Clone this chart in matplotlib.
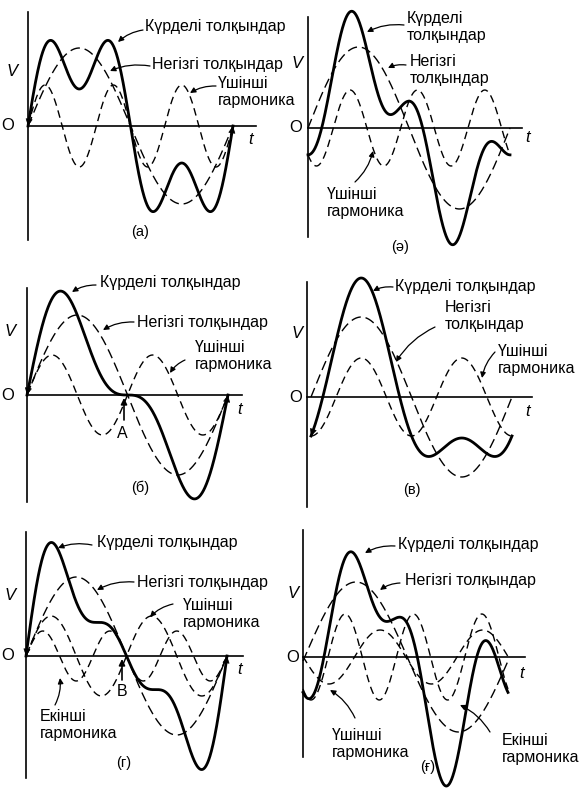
import numpy as np
import matplotlib.pyplot as plt

plt.rcParams['font.family'] = ['Liberation Sans', 'DejaVu Sans']

W, H = 580, 792

panel_tags = ['(a)', '(ә)', '(б)', '(в)', '(г)', '(ғ)']

# гармоники: амплитуда (px оригинала) и фаза (градусы)
fund_amp = [78, 81, 80, 80, 79, 75]
fund_phase = [0, 0, 0, 0, 0, -3]
h2_amp = [0, 0, 40, 39, 40, 27]
h2_phase = [0, 0, 0, -90, 0, 179]
h3_amp = [41, 38, 0, 0, 25, 43]
h3_phase = [0, 225, 0, 0, 0, 228]

# расположение панелей (px)
origin_x = [28, 308, 27, 311, 26, 303]
origin_y = [126, 128, 395, 397, 656, 657]
period = [205, 202, 201, 201, 201, 205]
vaxis_x = [28, 308, 27, 307, 26, 303]
vaxis_top = [12, 17, 288, 282, 532, 530]
vaxis_bot = [240, 237, 502, 507, 778, 757]
haxis_end = [256, 522, 242, 532, 243, 525]

v_pos = [(12, 72), (297, 63), (10, 331), (297, 333), (10, 595), (293, 593)]
o_pos = [(8, 126), (296, 128), (8, 395), (296, 397), (8, 656), (293, 657)]
t_pos = [(251, 140), (528, 137), (240, 409), (528, 412), (240, 670), (522, 673)]
tag_pos = [(140, 232), (400, 247), (140, 488), (412, 490), (124, 763), (428, 767)]

# стрелки-наконечники на сложной волне: (угол острия, угол хвоста)
curve_heads = {0: [(360, 350), (0, 10)], 2: [(360, 352), (0, 8)],
               3: [(0, 8)], 4: [(0, 8), (360, 352)]}

# подписи: текст, x левого края, y центра, начало стрелки, конец стрелки
labels = [
    ('Күрделі толқындар', 145, 27, (143, 30), (118, 42)),
    ('Негізгі толқындар', 152, 65, (150, 66), (110, 71)),
    ('Үшінші\nгармоника', 218, 92, (216, 86), (190, 93)),
    ('Күрделі\nтолқындар', 407, 27, (404, 25), (367, 32)),
    ('Негізгі\nтолқындар', 410, 70, (406, 65), (388, 68)),
    ('Үшінші\nгармоника', 327, 203, (355, 182), (373, 151)),
    ('Күрделі толқындар', 100, 283, (96, 285), (72, 292)),
    ('Негізгі толқындар', 137, 322, (134, 322), (103, 330)),
    ('Үшінші\nгармоника', 195, 356, (185, 360), (170, 373)),
    ('Күрделі толқындар', 395, 287, (393, 287), (373, 291)),
    ('Негізгі\nтолқындар', 445, 316, (435, 327), (396, 362)),
    ('Үшінші\nгармоника', 498, 360, (495, 352), (482, 378)),
    ('Күрделі толқындар', 97, 542, (92, 545), (58, 548)),
    ('Негізгі толқындар', 137, 582, (134, 582), (97, 590)),
    ('Үшінші\nгармоника', 183, 614, (173, 604), (150, 617)),
    ('Екінші\nгармоника', 40, 725, (55, 705), (60, 678)),
    ('Күрделі толқындар', 398, 545, (395, 546), (365, 553)),
    ('Негізгі толқындар', 405, 580, (400, 583), (380, 590)),
    ('Үшінші\nгармоника', 332, 744, (355, 718), (330, 690)),
    ('Екінші\nгармоника', 502, 749, (490, 732), (460, 705)),
]
points = [('A', 122, 433, (124, 420), (124, 398)),
          ('B', 122, 692, (122, 680), (122, 659))]

fig = plt.figure(figsize=(5.8, 7.92), dpi=100)
ax = fig.add_axes([0, 0, 1, 1])
ax.set_xlim(0, W)
ax.set_ylim(H, 0)
ax.axis('off')

theta = np.linspace(0, 360, 721)
th = np.radians(theta)
for i in range(6):
    x = origin_x[i] + theta / 360 * period[i]
    y0 = origin_y[i]
    f = fund_amp[i] * np.sin(th + np.radians(fund_phase[i]))
    s = h2_amp[i] * np.sin(2 * th + np.radians(h2_phase[i]))
    r = h3_amp[i] * np.sin(3 * th + np.radians(h3_phase[i]))
    c = y0 - (f + s + r)
    ax.plot(x, y0 - f, color='k', lw=1.0, dashes=(7, 3.5))
    if h2_amp[i]:
        ax.plot(x, y0 - s, color='k', lw=1.0, dashes=(5.5, 3.5))
    if h3_amp[i]:
        ax.plot(x, y0 - r, color='k', lw=1.0, dashes=(5.5, 3.5))
    ax.plot(x, c, color='k', lw=2.0)

    for tip, tail in curve_heads.get(i, []):
        a, b = tip * 2, tail * 2
        ax.annotate('', xy=(x[a], c[a]), xytext=(x[b], c[b]),
                    arrowprops=dict(arrowstyle='-|>', lw=0.5, color='k',
                                    mutation_scale=11, shrinkA=0, shrinkB=0))

    ax.plot([vaxis_x[i]] * 2, [vaxis_top[i], vaxis_bot[i]], color='k', lw=1.2)
    ax.plot([vaxis_x[i], haxis_end[i]], [y0, y0], color='k', lw=1.2)

    ax.text(*v_pos[i], 'V', fontsize=12, style='italic', ha='center', va='center')
    ax.text(*o_pos[i], 'O', fontsize=12, ha='center', va='center')
    ax.text(*t_pos[i], 't', fontsize=12, style='italic', ha='center', va='center')
    ax.text(*tag_pos[i], panel_tags[i], fontsize=10.5, ha='center', va='center')

for txt, tx, ty, a0, a1 in labels:
    ax.text(tx, ty, txt, fontsize=11.5, ha='left', va='center', linespacing=1.2)
    ax.annotate('', xy=a1, xytext=a0,
                arrowprops=dict(arrowstyle='-|>', lw=0.9, color='k', mutation_scale=8,
                                shrinkA=0, shrinkB=0, connectionstyle='arc3,rad=0.15'))
for txt, tx, ty, a0, a1 in points:
    ax.text(tx, ty, txt, fontsize=11.5, ha='center', va='center')
    ax.annotate('', xy=a1, xytext=a0,
                arrowprops=dict(arrowstyle='-|>', lw=1.2, color='k', mutation_scale=9,
                                shrinkA=0, shrinkB=0))

fig.savefig('out.png', dpi=100)
